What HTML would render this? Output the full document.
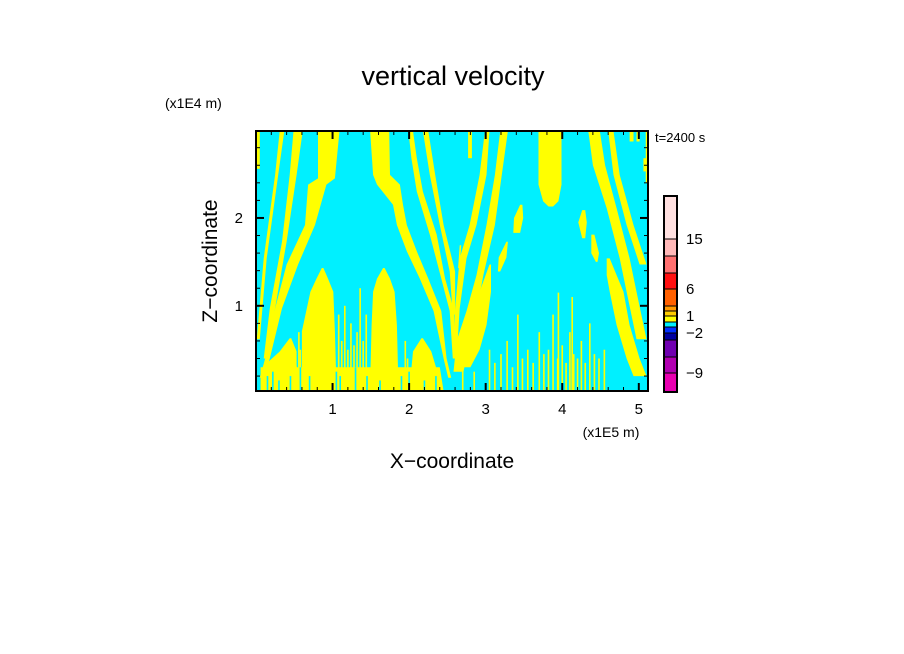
<!DOCTYPE html>
<html><head><meta charset="utf-8"><style>
html,body{margin:0;padding:0;background:#fff;}
svg{display:block;font-family:"Liberation Sans",sans-serif;}
</style></head><body>
<svg id="chart" width="904" height="654" viewBox="0 0 904 654">
<text x="453" y="85" text-anchor="middle" font-size="27">vertical velocity</text>
<text x="165" y="108" font-size="14">(x1E4 m)</text>
<text x="655" y="142" font-size="13">t=2400 s</text>
<text x="611" y="437" text-anchor="middle" font-size="14">(x1E5 m)</text>
<text x="452" y="468" text-anchor="middle" font-size="21">X−coordinate</text>
<text transform="translate(217,261) rotate(-90)" text-anchor="middle" font-size="21">Z−coordinate</text>
<g id="field"></g>
<g id="axes"></g>
<g id="cbar"></g>
</svg>
<script>
const xTicks=[1,2,3,4,5];
const zTicks=[1,2];
const xMin=0,xMax=5.12,zMin=0.03,zMax=2.99;
const bands=[
[[2.99,0.0,0.05],[2.56,0.0,0.05]],
[[2.99,0.31,0.37],[2.49,0.25,0.29],[1.54,0.10,0.14],[0.62,0.01,0.05]],
[[2.99,0.49,0.61],[2.49,0.44,0.53],[1.73,0.34,0.40],[0.97,0.18,0.25],[0.40,0.10,0.16]],
[[2.99,0.81,1.09],[2.45,0.81,1.03],[2.38,0.68,0.92],[1.92,0.64,0.77],[1.47,0.40,0.55],[0.97,0.25,0.34],[0.40,0.12,0.18],[0.18,0.05,0.10]],
[[2.99,1.49,1.74],[2.49,1.53,1.75],[2.38,1.58,1.88],[2.15,1.79,1.92],[1.92,1.84,1.97],[1.62,1.97,2.10],[1.31,2.14,2.25],[0.94,2.32,2.42],[0.40,2.45,2.49],[0.18,2.51,2.55]],
[[2.99,1.99,2.05],[2.68,2.03,2.10],[2.30,2.10,2.18],[1.81,2.27,2.36],[1.31,2.42,2.47],[0.94,2.53,2.59],[0.40,2.57,2.60]],
[[2.99,2.18,2.25],[2.49,2.27,2.34],[1.92,2.40,2.45],[1.39,2.53,2.60],[0.90,2.57,2.60]],
[[2.99,2.77,2.82],[2.68,2.77,2.82]],
[[2.99,2.99,3.05],[2.49,2.92,3.01],[1.92,2.79,2.88],[1.54,2.66,2.75],[0.97,2.60,2.66],[0.40,2.58,2.62]],
[[2.99,3.19,3.29],[2.49,3.12,3.21],[1.92,3.01,3.12],[1.35,2.88,2.97],[0.94,2.75,2.88],[0.60,2.62,2.79],[0.25,2.58,2.71]],
[[2.99,3.69,3.99],[2.38,3.69,3.99],[2.19,3.75,3.95],[2.13,3.82,3.88]],
[[2.15,3.45,3.48],[2.00,3.37,3.49],[1.83,3.36,3.45]],
[[2.09,4.26,4.30],[1.95,4.21,4.32],[1.77,4.26,4.30]],
[[1.81,4.38,4.42],[1.60,4.38,4.48],[1.50,4.44,4.46]],
[[1.73,3.27,3.29],[1.55,3.17,3.27],[1.39,3.16,3.19]],
[[1.69,2.66,2.68],[1.43,2.64,2.66]],
[[2.99,4.34,4.49],[2.60,4.40,4.56],[2.11,4.58,4.71],[1.54,4.75,4.88],[1.16,4.84,4.97],[0.62,4.97,5.10]],
[[2.99,4.60,4.67],[2.49,4.67,4.75],[1.92,4.84,4.93],[1.47,5.01,5.10]],
[[2.99,4.88,4.93],[2.87,4.88,4.93]],
[[2.99,4.97,5.01],[2.87,4.97,5.01]],
[[2.68,5.06,5.10],[2.53,5.06,5.10]],
[[2.99,5.09,5.12],[2.40,5.09,5.12]],
[[1.54,4.58,4.62],[1.35,4.58,4.71],[1.16,4.62,4.80],[0.78,4.71,4.88],[0.40,4.84,5.01],[0.20,4.93,5.10]],
[[0.63,0.44,0.46],[0.48,0.31,0.53],[0.33,0.12,0.53],[0.10,0.08,0.55]],
[[1.43,0.86,0.88],[1.31,0.79,0.94],[1.16,0.71,1.01],[0.71,0.60,1.03],[0.10,0.60,1.05]],
[[1.43,1.66,1.68],[1.31,1.58,1.75],[1.16,1.53,1.81],[0.78,1.51,1.84],[0.10,1.49,1.86]],
[[0.63,2.16,2.18],[0.48,2.05,2.29],[0.10,2.01,2.42]],
[[1.47,3.05,3.07],[1.16,2.92,3.07],[0.78,2.79,3.01],[0.50,2.71,2.92],[0.30,2.66,2.80]],
[[0.30,0.06,2.40],[0.03,0.06,2.45]]
];
const spikeX=[0.56,0.58,1.08,1.12,1.16,1.20,1.24,1.28,1.32,1.36,1.40,1.44,1.95,1.98,3.05,3.12,3.20,3.28,3.35,3.42,3.48,3.55,3.62,3.70,3.76,3.82,3.88,3.94,4.00,4.05,4.10,4.15,4.20,4.25,4.30,4.36,4.42,4.48,4.55,3.95,4.13,2.70,2.85];
const spikeTop=[0.7,0.5,0.9,0.6,1.0,0.5,0.8,0.55,0.7,1.2,0.6,0.9,0.6,0.4,0.5,0.35,0.45,0.6,0.3,0.9,0.4,0.5,0.35,0.7,0.45,0.5,0.9,0.4,0.55,0.35,0.7,0.45,0.4,0.6,0.35,0.8,0.45,0.4,0.5,1.15,1.1,0.3,0.25];
const gapX=[0.15,0.22,0.30,0.45,0.58,0.70,1.05,1.10,1.30,1.45,1.62,1.90,2.00,2.20,2.35];
const gapTop=[0.2,0.25,0.15,0.2,0.3,0.2,0.25,0.2,0.3,0.2,0.15,0.2,0.25,0.15,0.2];
const cbColors=["#e800b0","#b000b0","#7000b0","#0000a0","#0030ff","#00f0ff","#ffff00","#ffcc00","#ff9900","#ff6000","#ff1010","#ff7070","#ffb8b8","#ffe0e0"];
const cbHeights=[19,16,17,7,6,5,6,5,5,17,16,17,17,43];
const cbLabels=["-9","-2","1","6","15"];
const cbLabelIdx=[0,3,6,9,12];

const L=256,R=648,T=131,B=391;
const sx=v=>L+(v-xMin)/(xMax-xMin)*(R-L);
const sz=v=>B-(v-zMin)/(zMax-zMin)*(B-T);
const NS="http://www.w3.org/2000/svg";
function mk(tag,attrs,parent){const e=document.createElementNS(NS,tag);for(const k in attrs)e.setAttribute(k,attrs[k]);parent.appendChild(e);return e;}
const field=document.getElementById('field');
const clip=mk('clipPath',{id:'pc'},field);mk('rect',{x:L,y:T,width:R-L,height:B-T},clip);
const fg=mk('g',{'clip-path':'url(#pc)'},field);
let bg=mk('rect',{x:L,y:T,width:R-L,height:B-T,fill:'#00f0ff'},fg);


bands.forEach((b,i)=>{
  const left=b.map(p=>sx(p[1]).toFixed(1)+','+sz(p[0]).toFixed(1));
  const right=b.slice().reverse().map(p=>sx(p[2]).toFixed(1)+','+sz(p[0]).toFixed(1));
  const p=mk('polygon',{points:left.concat(right).join(' '),fill:'#ffff00'},fg);
  
  
});
spikeX.forEach((x,i)=>{
  const r=mk('rect',{x:sx(x)-0.8,y:sz(spikeTop[i]),width:1.6,height:sz(zMin)-sz(spikeTop[i]),fill:'#ffff00'},fg);
  
  
});
gapX.forEach((x,i)=>{
  const r=mk('rect',{x:sx(x)-0.8,y:sz(gapTop[i]),width:1.6,height:sz(zMin)-sz(gapTop[i]),fill:'#00f0ff'},fg);
  
  
});
const axes=document.getElementById('axes');
mk('rect',{x:L,y:T,width:R-L,height:B-T,fill:'none',stroke:'#000','stroke-width':2},axes);
for(let v=0.2;v<xMax;v+=0.2){const x=sx(v);const major=Math.abs(v-Math.round(v))<0.01;const len=major?8:4;
  mk('line',{x1:x,y1:B,x2:x,y2:B-len,stroke:'#000','stroke-width':major?2:1},axes);
  mk('line',{x1:x,y1:T,x2:x,y2:T+len,stroke:'#000','stroke-width':major?2:1},axes);}
for(let v=0.2;v<zMax;v+=0.2){const y=sz(v);const major=Math.abs(v-Math.round(v))<0.01;const len=major?8:4;
  mk('line',{x1:L,y1:y,x2:L+len,y2:y,stroke:'#000','stroke-width':major?2:1},axes);
  mk('line',{x1:R,y1:y,x2:R-len,y2:y,stroke:'#000','stroke-width':major?2:1},axes);}
xTicks.forEach(v=>{const t=mk('text',{x:sx(v),y:414,'text-anchor':'middle','font-size':15},axes);t.textContent=v;
  
  });
zTicks.forEach(v=>{const t=mk('text',{x:243,y:sz(v)+5,'text-anchor':'end','font-size':15},axes);t.textContent=v;
  
  });
const cb=document.getElementById('cbar');
let y=392;const cx=664,cw=13;const ys=[];
cbColors.forEach((c,i)=>{y-=cbHeights[i];ys.push(y);
  const r=mk('rect',{x:cx,y:y,width:cw,height:cbHeights[i],fill:c,stroke:'#000','stroke-width':1},cb);
  
  });
mk('rect',{x:cx,y:y,width:cw,height:392-y,fill:'none',stroke:'#000','stroke-width':2},cb);
cbLabels.forEach((s,i)=>{const t=mk('text',{x:686,y:ys[cbLabelIdx[i]]+5,'font-size':15},cb);t.textContent=s.replace('-','−');
  
  });
</script>
</body></html>
